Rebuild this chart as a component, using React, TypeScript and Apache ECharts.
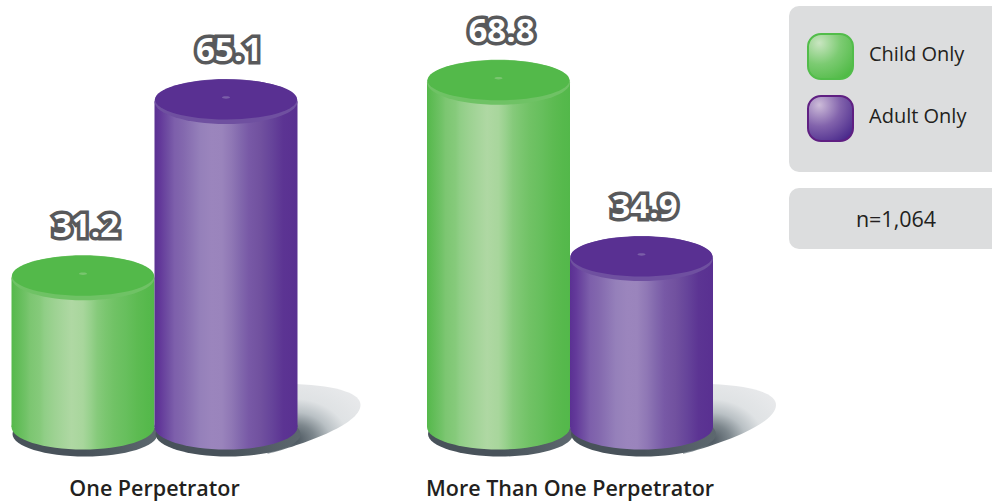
import React, { useEffect, useRef } from "react";
import * as echarts from "echarts";

const categories = ["One Perpetrator", "More Than One Perpetrator"];
const childOnly = [31.2, 68.8];
const adultOnly = [65.1, 34.9];
const seriesNames = ["Child Only", "Adult Only"];
const sampleNote = "n=1,064";

const FONT = "'Open Sans', 'Noto Sans', sans-serif";
const FLOOR_VALUE = 2.5; // the cylinders stand slightly above the axis origin
const BAR_RATIO = 143 / 415.5;
const RY = 22.5;

const body = (stops: [number, string][]) => ({
  type: "linear", x: 0, y: 0, x2: 1, y2: 0, global: false,
  colorStops: stops.map(([offset, color]) => ({ offset, color })),
});

const greenBody = body([
  [0, "#55b94b"], [0.04, "#60bc56"], [0.1, "#71c267"], [0.13, "#7cc671"], [0.2, "#86ca7b"], [0.23, "#90ce86"],
  [0.3, "#9dd292"], [0.36, "#a6d59b"], [0.42, "#afd8a3"], [0.5, "#a8d69c"], [0.55, "#98d18d"],
  [0.6, "#86ca7b"], [0.66, "#7ac66f"], [0.72, "#70c265"], [0.8, "#67bf5d"], [0.88, "#5dbb52"], [0.95, "#56b94c"], [1, "#53b84a"],
]);
const purpleBody = body([
  [0, "#5a3192"], [0.04, "#63399a"], [0.1, "#7150a3"], [0.14, "#7d5fab"], [0.2, "#8368ae"], [0.26, "#8c74b4"],
  [0.32, "#9580ba"], [0.4, "#9b85bd"], [0.47, "#9a84bc"], [0.54, "#8f77b5"], [0.6, "#8268ad"],
  [0.66, "#7859a6"], [0.74, "#71519f"], [0.82, "#66449a"], [0.9, "#5c3493"], [1, "#593091"],
]);
const looks = [
  { body: greenBody, top: "#53b94a", rim: "#6fc265", dot: "#79c56f" },
  { body: purpleBody, top: "#593092", rim: "#6f50a0", dot: "#7a5ea8" },
];

const cylinder = (seriesIndex: number, offsetSign: number) => (params: any, api: any) => {
  const value = api.value(1);
  const [cx0, yTop] = api.coord([api.value(0), value]);
  const [, yFloor] = api.coord([api.value(0), FLOOR_VALUE]);
  const w = api.size([1, 0])[0] * BAR_RATIO;
  const cx = cx0 + (offsetSign * w) / 2;
  const rx = w / 2;
  const look = looks[seriesIndex];
  return {
    type: "group",
    children: [
      { type: "ellipse", shape: { cx: cx + 2, cy: yFloor + 7, rx: rx + 1, ry: RY },
        style: { fill: { type: "linear", x: 0, y: 0, x2: 1, y2: 0, colorStops: [
          { offset: 0, color: "#48525a" }, { offset: 0.5, color: "#48525a" }, { offset: 1, color: "#5d686f" } ] } } },
      { type: "ellipse", shape: { cx, cy: yFloor, rx, ry: RY }, style: { fill: look.body } },
      { type: "rect", shape: { x: cx - rx, y: yTop, width: w, height: yFloor - yTop }, style: { fill: look.body } },
      { type: "ellipse", shape: { cx, cy: yTop, rx, ry: RY }, style: { fill: look.rim } },
      { type: "ellipse", shape: { cx, cy: yTop - 2, rx: rx - 0.5, ry: RY - 2.5 }, style: { fill: look.top } },
      { type: "ellipse", shape: { cx, cy: yTop - 4, rx: 4, ry: 1.2 }, style: { fill: look.dot } },
      { type: "text", x: cx + 3, y: yTop - 53,
        style: { text: value.toFixed(1), fill: "#ffffff", stroke: "#58595b", lineWidth: 7,
          font: `700 33px ${FONT}`, align: "center", verticalAlign: "middle" } },
    ],
  };
};

const shadow = (params: any, api: any) => {
  const [cx0] = api.coord([api.value(0), 0]);
  const [, yFloor] = api.coord([api.value(0), FLOOR_VALUE]);
  const w = api.size([1, 0])[0] * BAR_RATIO;
  const x = cx0 + w;
  const y = yFloor;
  const d = `M${x - 2} ${y - 43} C${x + 43} ${y - 41} ${x + 63} ${y - 33} ${x + 63} ${y - 22} C${x + 63} ${y - 2} ${x + 3} ${y + 18} ${x - 30} ${y + 27} L${x - 30} ${y} Z`;
  return {
    type: "path",
    shape: { pathData: d },
    style: { fill: { type: "radial", x: 0.28, y: 0.8, r: 0.95, colorStops: [
      { offset: 0, color: "#46515a" }, { offset: 0.24, color: "#7d878d" },
      { offset: 0.42, color: "#b9c0c4" }, { offset: 0.62, color: "#dfe2e4" }, { offset: 1, color: "#e9eaec" } ] } },
  };
};

const legendRows = [
  { y: 33, fill: ["#c9e5c1", "#7ccb72", "#4fba45"], border: "#52bd4a" },
  { y: 95, fill: ["#cdbcd9", "#8263ac", "#4a2a8c"], border: "#5f1f82" },
];

export default function App() {
  const ref = useRef<HTMLDivElement>(null);
  useEffect(() => {
    document.body.style.margin = "0";
    const chart = echarts.init(ref.current!, undefined, { renderer: "svg" });
    chart.setOption({
      animation: false,
      backgroundColor: "#ffffff",
      grid: { left: 154.5, width: 415.5, top: 24, height: 416 },
      xAxis: {
        type: "category", data: categories, boundaryGap: false,
        axisLine: { show: false }, axisTick: { show: false },
        axisLabel: { margin: 36, fontFamily: FONT, fontWeight: 600, fontSize: 21.5, color: "#231f20", interval: 0 },
      },
      yAxis: { type: "value", min: 0, max: 80, show: false, splitLine: { show: false } },
      series: [
        { type: "custom", name: "shadow", z: 1, clip: false, silent: true, renderItem: shadow,
          encode: { x: 0, y: 1 }, data: categories.map((_, i) => [i, 0]) },
        { type: "custom", name: seriesNames[0], z: 2, clip: false, renderItem: cylinder(0, -1),
          encode: { x: 0, y: 1 }, data: childOnly.map((v, i) => [i, v]) },
        { type: "custom", name: seriesNames[1], z: 3, clip: false, renderItem: cylinder(1, 1),
          encode: { x: 0, y: 1 }, data: adultOnly.map((v, i) => [i, v]) },
      ],
      graphic: [
        { type: "rect", shape: { x: 789, y: 6, width: 230, height: 166, r: 10 }, style: { fill: "#dcddde" } },
        { type: "rect", shape: { x: 789, y: 188, width: 230, height: 61, r: 10 }, style: { fill: "#dcddde" } },
        ...legendRows.map((row) => ({
          type: "rect",
          shape: { x: 808, y: row.y + 1, width: 45, height: 45, r: 13 },
          style: {
            fill: { type: "radial", x: 0.25, y: 0.2, r: 0.95, colorStops: [
              { offset: 0, color: row.fill[0] }, { offset: 0.5, color: row.fill[1] }, { offset: 1, color: row.fill[2] } ] },
            stroke: row.border, lineWidth: 2,
          },
        })),
        ...legendRows.map((row, i) => ({
          type: "text", x: 869, y: row.y + 20,
          style: { text: seriesNames[i], fill: "#231f20", font: `400 20px ${FONT}`, align: "left", verticalAlign: "middle" },
        })),
        { type: "text", x: 896, y: 218,
          style: { text: sampleNote, fill: "#231f20", font: `400 21.5px ${FONT}`, align: "center", verticalAlign: "middle" } },
      ],
    });
    return () => chart.dispose();
  }, []);
  return <div ref={ref} style={{ width: 992, height: 501 }} />;
}
